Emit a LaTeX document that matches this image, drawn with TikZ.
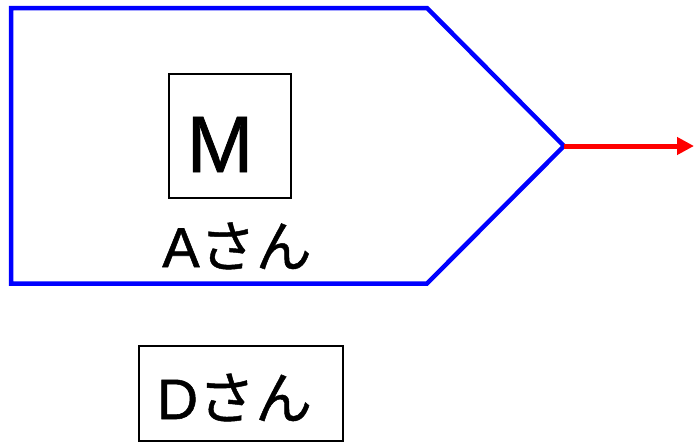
\documentclass[tikz,border=0pt]{standalone}
\usepackage{fontspec}
\setmainfont{Liberation Sans}[FakeBold=1]
\newfontfamily\jp{Noto Sans CJK JP}[FakeBold=0.8]
\usepackage{tikz}
\usetikzlibrary{arrows.meta, positioning}
\tikzset{
  outline/.style={draw=blue, line width=4.5pt, line join=miter},
  frame/.style={rectangle, draw, line width=1.4pt, inner sep=0pt},
  label/.style={inner sep=0pt, anchor=base},
  flow/.style={-{Triangle[length=17pt, width=17pt]}, draw=red, line width=5pt},
}
\begin{document}
\begin{tikzpicture}[x=1pt, y=-1pt]
  \useasboundingbox (0,0) rectangle (694,442);
  % pentagon of A
  \coordinate (tl)  at (11,8);
  \coordinate (tr)  at (427,8);
  \coordinate (tip) at (564,146);
  \coordinate (br)  at (427,283.5);
  \coordinate (bl)  at (11,283.5);
  \draw[outline] (tl) -- (tr) -- (tip) -- (br) -- (bl) -- cycle;
  \coordinate (out) at (694,146);
  \draw[flow] (tip) -- (out);

  \node[frame, minimum width=122pt, minimum height=124pt] (mbox) at (230,135.8) {};
  \node[label, font=\fontsize{80}{80}\selectfont] (mtext) at (220,172) {M};
  \node[label, font=\fontsize{56}{56}\selectfont] (aname) at (237,267) {A{\jp さん}};

  \node[frame, minimum width=204pt, minimum height=95pt] (dbox) at (241,393.5) {};
  \node[label, font=\fontsize{57}{57}\selectfont] (dname) at (234.5,419) {D{\jp さん}};
\end{tikzpicture}
\end{document}
